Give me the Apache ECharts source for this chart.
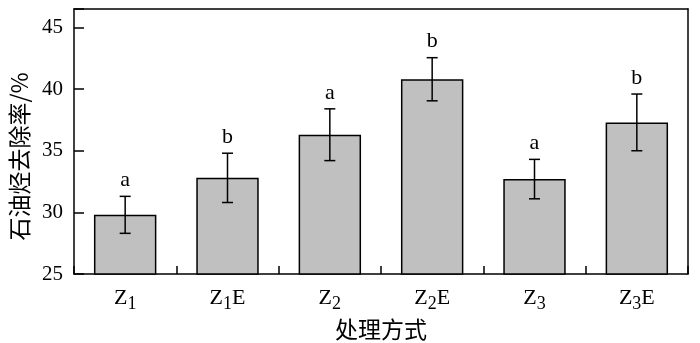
<!DOCTYPE html>
<html>
<head>
<meta charset="utf-8">
<script src="https://cdn.jsdelivr.net/npm/echarts@6/dist/echarts.min.js"></script>
<style>
  html, body { margin: 0; padding: 0; background: #fff; }
  #chart { width: 700px; height: 343px; }
</style>
</head>
<body>
<div id="chart"></div>
<script>
// Treatment groups (base label, subscript, suffix)
const categories = ['Z1', 'Z1E', 'Z2', 'Z2E', 'Z3', 'Z3E'];
// Mean removal rate of petroleum hydrocarbons (%)
const removalRate = [29.8, 32.8, 36.3, 40.8, 32.7, 37.3];
// Standard deviation shown as error bars
const errorSd = [1.5, 2.0, 2.1, 1.75, 1.6, 2.3];
// Significance letters above each bar
const sigLetters = ['a', 'b', 'a', 'b', 'a', 'b'];
// Y axis tick values
const yTicks = [25, 30, 35, 40, 45];

const serif = '"Liberation Serif", "Times New Roman", serif';
const cjk = '"Noto Sans CJK SC", sans-serif';
const lineW = 1.5;

const chart = echarts.init(document.getElementById('chart'));

const errData = removalRate.map((v, i) => [i, v - errorSd[i], v + errorSd[i]]);

chart.setOption({
  animation: false,
  grid: { left: 74, right: 12, top: 9, bottom: 69, outerBoundsMode: 'none', containLabel: false },
  xAxis: [{
    type: 'category',
    data: categories,
    boundaryGap: true,
    axisLine: { lineStyle: { color: '#000', width: lineW } },
    axisTick: { show: true, interval: 0, inside: true, length: 8, lineStyle: { color: '#000', width: lineW } },
    axisLabel: {
      interval: 0,
      margin: 9,
      color: '#000',
      fontFamily: serif,
      fontSize: 22,
      formatter: function (s) {
        const m = s.match(/^Z(\d)(E?)$/);
        return '{n|Z}{s|' + m[1] + '}' + (m[2] ? '{n|E}' : '');
      },
      rich: {
        n: { fontFamily: serif, fontSize: 22, color: '#000' },
        s: { fontFamily: serif, fontSize: 18, color: '#000', verticalAlign: 'bottom', padding: [12, 0, 0, 0] }
      }
    },
    name: '处理方式',
    nameLocation: 'middle',
    nameGap: 40,
    nameTextStyle: { fontFamily: cjk, fontSize: 23, color: '#000' }
  }, {
    type: 'category',
    position: 'top',
    data: categories,
    axisLine: { lineStyle: { color: '#000', width: lineW } },
    axisTick: { show: false },
    axisLabel: { show: false }
  }],
  yAxis: [{
    type: 'value',
    min: 25,
    max: 46.5,
    interval: 5,
    splitLine: { show: false },
    axisLine: { show: true, lineStyle: { color: '#000', width: lineW } },
    axisTick: { show: true, inside: true, length: 10, lineStyle: { color: '#000', width: lineW } },
    axisLabel: {
      margin: 11,
      color: '#000',
      fontFamily: serif,
      fontSize: 21,
      formatter: function (v) { return yTicks.indexOf(v) >= 0 ? String(v) : ''; }
    },
    name: '石油烃去除率/%',
    nameLocation: 'middle',
    nameRotate: 90,
    nameGap: 42,
    nameTextStyle: { fontFamily: cjk, fontSize: 23, color: '#000', padding: [0, 30, 0, 0] }
  }, {
    type: 'value',
    position: 'right',
    min: 25,
    max: 46.5,
    splitLine: { show: false },
    axisLine: { show: true, lineStyle: { color: '#000', width: lineW } },
    axisTick: { show: false },
    axisLabel: { show: false }
  }],
  series: [{
    type: 'bar',
    data: removalRate,
    barWidth: '61%',
    itemStyle: { color: '#c0c0c0', borderColor: '#000', borderWidth: lineW },
    z: 2
  }, {
    type: 'custom',
    data: errData,
    z: 3,
    renderItem: function (params, api) {
      const x = api.value(0);
      const lo = api.coord([x, api.value(1)]);
      const hi = api.coord([x, api.value(2)]);
      const half = 5.5;
      const style = { stroke: '#000', lineWidth: lineW };
      return {
        type: 'group',
        children: [
          { type: 'line', shape: { x1: lo[0], y1: lo[1], x2: hi[0], y2: hi[1] }, style: style },
          { type: 'line', shape: { x1: lo[0] - half, y1: lo[1], x2: lo[0] + half, y2: lo[1] }, style: style },
          { type: 'line', shape: { x1: hi[0] - half, y1: hi[1], x2: hi[0] + half, y2: hi[1] }, style: style },
          {
            type: 'text',
            style: {
              text: sigLetters[params.dataIndex],
              x: hi[0], y: hi[1] - 5,
              align: 'center', verticalAlign: 'bottom',
              fontFamily: serif, fontSize: 22, fill: '#000'
            }
          }
        ]
      };
    }
  }]
});
</script>
</body>
</html>
